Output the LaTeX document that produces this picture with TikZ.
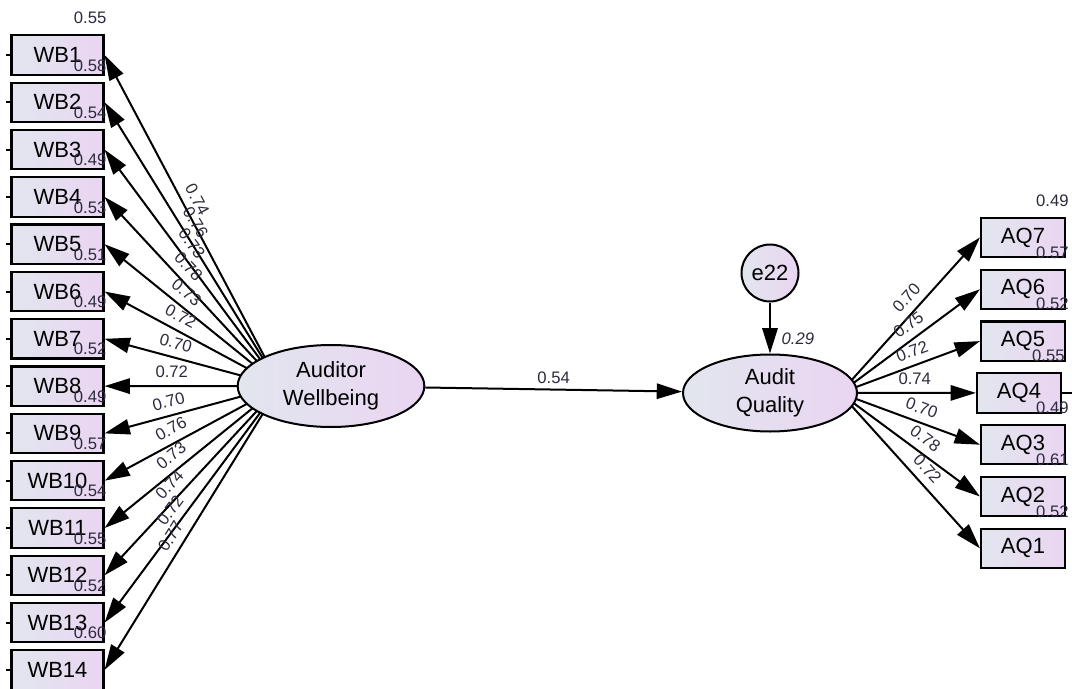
\documentclass[tikz,border=0pt]{standalone}
\usepackage{fontspec}
\setmainfont{Liberation Sans}
\usetikzlibrary{arrows.meta,positioning,shapes.geometric}

\definecolor{fillL}{RGB}{226,230,238}
\definecolor{fillR}{RGB}{234,213,242}
\definecolor{numcol}{RGB}{44,43,62}

\tikzset{
	obsbox/.style={draw, line width=1.6pt, left color=fillL, right color=fillR,
		minimum height=29.5pt, inner sep=0pt, font=\fontsize{16.5pt}{19pt}\selectfont},
	latent/.style={ellipse, draw, line width=1.5pt, left color=fillL, right color=fillR,
		align=center, inner sep=0pt, font=\fontsize{16.5pt}{21pt}\selectfont},
	loadarrow/.style={line width=1.5pt, -{Triangle[length=19pt,width=11.5pt]}},
	coef/.style={font=\fontsize{12.5pt}{14pt}\selectfont, text=numcol, inner sep=2pt},
	rsq/.style={font=\fontsize{12.5pt}{14pt}\selectfont, text=numcol, inner sep=0pt}
}

\begin{document}
\begin{tikzpicture}[x=0.75pt, y=-0.75pt]
	\useasboundingbox (0,0) rectangle (1072,689);
	\fill[white] (0,0) rectangle (1072,689);

	% indicators of Auditor Wellbeing
	\foreach \i [evaluate=\i as \y using {55+47.3*(\i-1)}] in {1,...,14}
		\node[obsbox, minimum width=69pt] (WB\i) at (57.5,\y) {WB\i};
	\foreach \i in {1,...,14} \draw[line width=1.5pt] (WB\i.west) -- ++(-4,0);

	% indicators of Audit Quality
	\foreach \j/\x in {7/1023,6/1023,5/1023,4/1019,3/1023,2/1023,1/1023}
		\node[obsbox, minimum width=63pt] (AQ\j) at (\x,{237.5+51.8*(7-\j)}) {AQ\j};
	\draw[line width=1.5pt] (AQ4.east) -- ++(14,0);

	% squared multiple correlations
	\foreach \i/\r in {1/0.55,2/0.58,3/0.54,4/0.49,5/0.53,6/0.51,7/0.49,8/0.52,9/0.49,10/0.57,11/0.54,12/0.55,13/0.52,14/0.60}
		\node[rsq, above left=7.5pt and -1.5pt of WB\i.north east] (rWB\i) {\r};
	\foreach \j/\r in {7/0.49,6/0.57,5/0.52,4/0.55,3/0.49,2/0.61,1/0.52}
		\node[rsq, above right=7.5pt and 42pt of AQ\j.north west] (rAQ\j) {\r};

	% loadings
	\coordinate (AWf) at (280,386);
	\coordinate (AQf) at (840,393);
	\foreach \i/\v/\t in {1/0.74/0.543,2/0.76/0.55,3/0.73/0.567,4/0.78/0.581,5/0.73/0.583,6/0.72/0.604,7/0.70/0.615,8/0.72/0.617,9/0.70/0.614,10/0.76/0.583,11/0.73/0.57,12/0.74/0.571,13/0.72/0.561,14/0.77/0.555}
		\draw[loadarrow] (AWf) -- (WB\i.east) node[coef, sloped, above=3.5pt, pos=\t] {\v};
	\foreach \j/\v in {7/0.70,6/0.75,5/0.72,4/0.74,3/0.70,2/0.78,1/0.72}
		\draw[loadarrow] (AQf) -- (AQ\j.west) node[coef, sloped, above=3.5pt, pos=0.55] {\v};

	% latent variables
	\node[latent, minimum width=140pt, minimum height=61.5pt] (AW) at (331,386) {Auditor\\Wellbeing};
	\node[latent, minimum width=130.5pt, minimum height=57.75pt] (AQ) at (770,393) {Audit\\Quality};
	\node[latent, circle, minimum size=42.75pt] (e22) at (770,273) {e22};

	\draw[loadarrow] (AW) -- (AQ) node[coef, above=2pt, midway] {0.54};
	\draw[loadarrow] (e22) -- (AQ) node[coef, right=6pt, pos=0.72, font=\fontsize{12.5pt}{14pt}\selectfont\itshape] {0.29};
\end{tikzpicture}
\end{document}
